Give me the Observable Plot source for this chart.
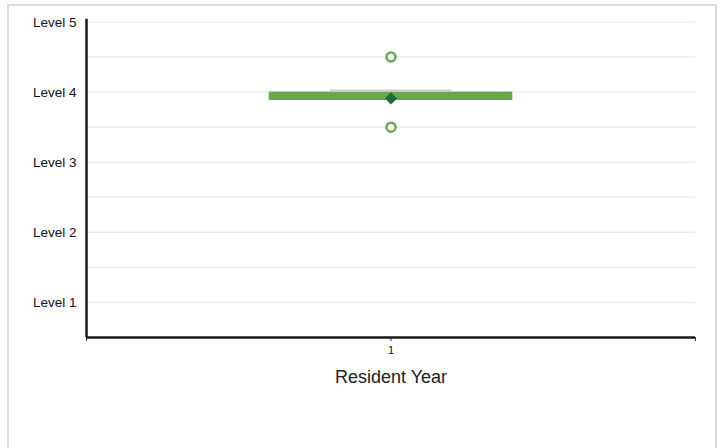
<!DOCTYPE html>
<html>
<head>
<meta charset="utf-8">
<script src="https://cdn.jsdelivr.net/npm/d3@7"></script>
<script src="https://cdn.jsdelivr.net/npm/@observablehq/plot@0.6"></script>
<style>
  html, body { margin: 0; padding: 0; background: #fff; }
  #wrap { position: relative; width: 725px; height: 448px; overflow: hidden; }
  #frame { position: absolute; left: 7px; top: 4px; width: 710px; height: 460px; border: 2.5px solid #dcdcdc; box-sizing: border-box; }
  #chart { position: absolute; left: 0; top: 0; }
  svg text { font-family: "Liberation Sans", Arial, sans-serif; }
</style>
</head>
<body>
<div id="wrap"><div id="frame"></div><div id="chart"></div></div>
<script>
// Data
const categories = [1];
const xTicks = [0, 1, 2];
const boxLow = [3.88];
const boxHigh = [4.0];
const upperLine = [4.025];
const means = [3.91];
const outliers = [4.5, 3.5];
const levelTicks = [1, 2, 3, 4, 5];
const levelLabels = ["Level 1", "Level 2", "Level 3", "Level 4", "Level 5"];
const gridLevels = [1, 1.5, 2, 2.5, 3, 3.5, 4, 4.5, 5];

const boxes = categories.map((c, i) => ({cat: c, lo: boxLow[i], hi: boxHigh[i], up: upperLine[i], mean: means[i]}));
const outlierPts = outliers.map(v => ({cat: categories[0], v}));

const chart = Plot.plot({
  width: 725,
  height: 448,
  marginLeft: 86,
  marginRight: 30,
  marginTop: 21.5,
  marginBottom: 111,
  style: {background: "transparent", fontFamily: "Liberation Sans, Arial, sans-serif"},
  x: {domain: [0, 2], label: null},
  y: {domain: [0.5, 5], label: null},
  marks: [
    Plot.ruleY(gridLevels, {stroke: "#ececec", strokeWidth: 1.5}),
    Plot.axisY({ticks: levelTicks, tickFormat: d => levelLabels[levelTicks.indexOf(d)], tickSize: 0, tickPadding: 10, fontSize: 13.5, fill: "#111", dy: 0.5}),
    Plot.axisX({ticks: xTicks, tickFormat: d => d === 1 ? "1" : "", tickSize: 4, tickPadding: 5, fontSize: 11, stroke: "#333", fill: "#111"}),
    Plot.text(["Resident Year"], {frameAnchor: "bottom", dy: 45, fontSize: 18, fill: "#222"}),
    Plot.ruleY(boxes, {y: "up", x1: d => d.cat - 0.2, x2: d => d.cat + 0.2, stroke: "#d0d0d0", strokeWidth: 1.5}),
    Plot.rect(boxes, {x1: d => d.cat - 0.4, x2: d => d.cat + 0.4, y1: "lo", y2: "hi", fill: "#6aa84f"}),
    Plot.dot(outlierPts, {x: "cat", y: "v", r: 4.5, stroke: "#6aa84f", strokeWidth: 2.5, fill: "white"}),
    Plot.dot(boxes, {x: "cat", y: "mean", symbol: "diamond2", r: 5.5, fill: "#1f6b3a"}),
    Plot.ruleX([0], {y1: 0.5, y2: 5.04, stroke: "#1a1a1a", strokeWidth: 2.5}),
    Plot.ruleY([0.5], {stroke: "#1a1a1a", strokeWidth: 2.5})
  ]
});
document.getElementById("chart").appendChild(chart);
</script>
</body>
</html>
